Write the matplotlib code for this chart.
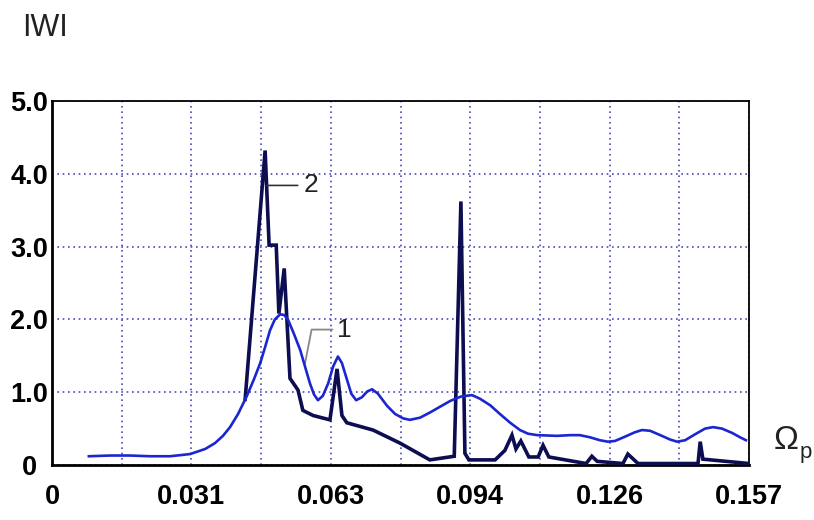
import matplotlib
matplotlib.use("Agg")
import matplotlib.pyplot as plt

# ---- data ----
x1 = [0.0083, 0.0131, 0.0176, 0.0221, 0.0266, 0.0311, 0.0345, 0.0367, 0.0385, 0.0401,
      0.0419, 0.0439, 0.0455, 0.0469, 0.0480, 0.0491, 0.0502, 0.0514, 0.0523, 0.0532,
      0.0545, 0.0559, 0.0570, 0.0581, 0.0590, 0.0599, 0.0610, 0.0622, 0.0633, 0.0644,
      0.0653, 0.0665, 0.0674, 0.0685, 0.0698, 0.0710, 0.0721, 0.0734, 0.0755, 0.0773,
      0.0791, 0.0806, 0.0829, 0.0851, 0.0874, 0.0897, 0.0921, 0.0946, 0.0964, 0.0987,
      0.1009, 0.1032, 0.1054, 0.1072, 0.1093, 0.1138, 0.1167, 0.1189, 0.1212, 0.1234,
      0.1252, 0.1268, 0.1291, 0.1313, 0.1329, 0.1347, 0.1370, 0.1392, 0.1408, 0.1426,
      0.1448, 0.1471, 0.1489, 0.1509, 0.1532, 0.1550, 0.1563]
y1 = [0.12, 0.13, 0.13, 0.12, 0.12, 0.15, 0.22, 0.30, 0.40, 0.52,
      0.70, 0.95, 1.18, 1.40, 1.62, 1.85, 2.00, 2.07, 2.06, 1.99,
      1.80, 1.58, 1.35, 1.12, 0.97, 0.89, 0.95, 1.12, 1.35, 1.49,
      1.40, 1.16, 0.98, 0.89, 0.93, 1.01, 1.04, 0.98, 0.81, 0.70,
      0.64, 0.62, 0.65, 0.72, 0.80, 0.88, 0.94, 0.96, 0.91, 0.82,
      0.70, 0.58, 0.48, 0.43, 0.41, 0.40, 0.41, 0.41, 0.38, 0.34,
      0.32, 0.33, 0.39, 0.45, 0.48, 0.47, 0.41, 0.35, 0.32, 0.34,
      0.42, 0.50, 0.52, 0.50, 0.44, 0.38, 0.34]

# curve 2 coincides with curve 1 below x = 0.0435 (hidden beneath it)
x2 = [0.0435, 0.0480, 0.0489, 0.0505, 0.0511, 0.0523, 0.0536, 0.0554, 0.0565,
      0.0588, 0.0626, 0.0642, 0.0653, 0.0664, 0.0723, 0.0784, 0.0851, 0.0906, 0.0921,
      0.0930, 0.0939, 0.0998, 0.1020, 0.1036, 0.1045, 0.1056, 0.1074, 0.1095, 0.1106,
      0.1119, 0.1203, 0.1216, 0.1228, 0.1286, 0.1297, 0.1320, 0.1455, 0.1460, 0.1466,
      0.1570]
y2 = [0.90, 4.32, 3.02, 3.02, 2.08, 2.70, 1.19, 1.03, 0.75,
      0.68, 0.62, 1.32, 0.68, 0.58, 0.48, 0.30, 0.07, 0.12, 3.62,
      0.16, 0.07, 0.07, 0.20, 0.41, 0.22, 0.33, 0.11, 0.11, 0.27,
      0.11, 0.02, 0.12, 0.05, 0.02, 0.15, 0.02, 0.02, 0.32, 0.08,
      0.02]

xtick_vals = [0.0, 0.0314, 0.0628, 0.0942, 0.1256, 0.157]
xtick_labels = ["0", "0.031", "0.063", "0.094", "0.126", "0.157"]
xgrid_minor = [0.0157, 0.0471, 0.0785, 0.1099, 0.1413]
ytick_vals = [0, 1, 2, 3, 4, 5]
ytick_labels = ["0", "1.0", "2.0", "3.0", "4.0", "5.0"]

FONT = ["Liberation Sans", "DejaVu Sans"]
plt.rcParams["font.family"] = FONT

fig = plt.figure(figsize=(8.14, 5.20), dpi=100)
ax = fig.add_axes([0.0639, 0.1058, 0.8563, 0.7000])

ax.set_xlim(0, 0.157)
ax.set_ylim(0, 5)

grid_kw = dict(color="#4a4ab8", linewidth=1.2, linestyle=(0, (1, 2.2)))
ax.set_xticks(xtick_vals)
ax.set_xticklabels(xtick_labels)
ax.set_xticks(xgrid_minor, minor=True)
ax.set_yticks(ytick_vals)
ax.set_yticklabels(ytick_labels)
ax.grid(True, which="both", axis="x", **grid_kw)
ax.grid(True, which="major", axis="y", **grid_kw)
ax.set_axisbelow(True)

ax.tick_params(axis="both", which="both", length=0)
ax.tick_params(axis="x", pad=14, labelsize=19.5)
ax.tick_params(axis="y", pad=16.5, labelsize=19.5)
for lab in ax.get_xticklabels() + ax.get_yticklabels():
    lab.set_fontweight("bold")
for lab in ax.get_yticklabels():
    lab.set_horizontalalignment("center")

for side in ["top", "right"]:
    ax.spines[side].set_linewidth(1.3)
for side in ["left", "bottom"]:
    ax.spines[side].set_linewidth(2.0)
for s in ax.spines.values():
    s.set_color("black")

ax.plot(x1, y1, color="#1c26d0", linewidth=1.9, zorder=4, solid_joinstyle="round")
ax.plot(x2, y2, color="#0d0d52", linewidth=2.6, zorder=3, solid_joinstyle="miter")

# curve labels with leader lines
ax.annotate("2", xy=(0.0484, 3.84), xytext=(0.0566, 3.84), fontsize=19,
            va="center", ha="left", color="#222222",
            arrowprops=dict(arrowstyle="-", color="#333333", lw=1.2,
                            shrinkA=2, shrinkB=0))
ax.annotate("1", xy=(0.0570, 1.40), xytext=(0.0641, 1.86), fontsize=19,
            va="center", ha="left", color="#222222",
            arrowprops=dict(arrowstyle="-", color="#888888", lw=1.3,
                            shrinkA=1, shrinkB=0,
                            connectionstyle="angle,angleA=0,angleB=79,rad=0"))

# axis labels
fig.text(0.027, 0.946, "IWI", fontsize=22, ha="left", va="center", color="#222222")
fig.text(0.950, 0.152, "\u03a9", fontsize=24, ha="left", va="center", color="#222222")
fig.text(0.982, 0.130, "p", fontsize=16, ha="left", va="center", color="#222222")

fig.savefig("out.png", dpi=100)
